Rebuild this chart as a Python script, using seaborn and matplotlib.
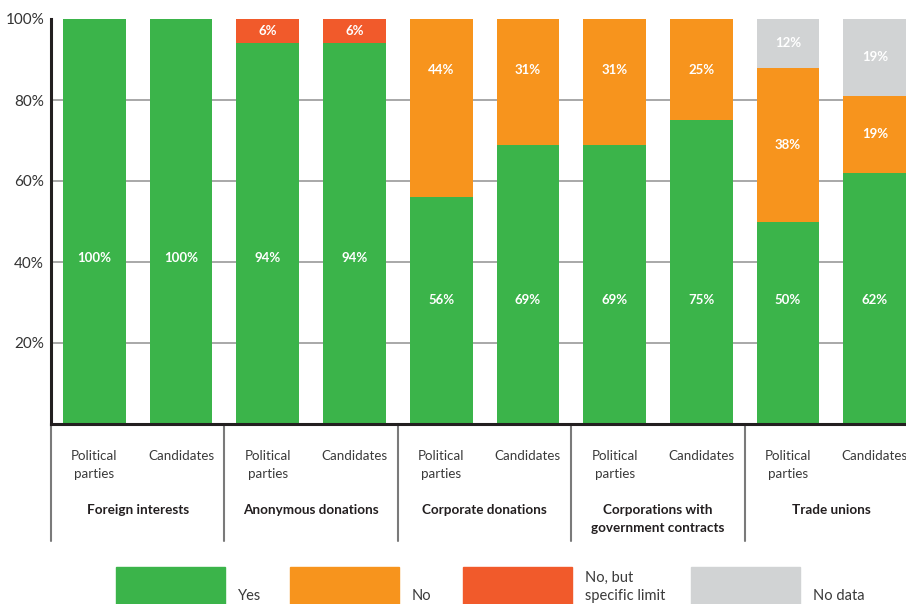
import numpy as np
import pandas as pd
import seaborn as sns
import matplotlib.pyplot as plt
from matplotlib import transforms
from matplotlib.patches import Rectangle

# data (percent of countries)
groups = ['Foreign interests', 'Anonymous donations', 'Corporate donations',
          'Corporations with\ngovernment contracts', 'Trade unions']
subgroups = ['Political\nparties', 'Candidates']
yes = [100, 100, 94, 94, 56, 69, 69, 75, 50, 62]
no = [0, 0, 0, 0, 44, 31, 31, 25, 38, 19]
no_limit = [0, 0, 6, 6, 0, 0, 0, 0, 0, 0]
no_data = [0, 0, 0, 0, 0, 0, 0, 0, 12, 19]

series = ['Yes', 'No', 'No, but\nspecific limit', 'No data']
colors = ['#3bb44a', '#f7941d', '#f15a2b', '#d1d3d4']

sns.set_theme(style='white')
plt.rcParams['font.family'] = ['Lato', 'DejaVu Sans']

bar_ids = [f'{g}|{s}' for g in groups for s in subgroups]
df = pd.DataFrame({'bar': bar_ids, 'Yes': yes, 'No': no,
                   'Limit': no_limit, 'NoData': no_data})
df['c1'] = df['Yes']
df['c2'] = df['c1'] + df['No']
df['c3'] = df['c2'] + df['Limit']
df['c4'] = df['c3'] + df['NoData']

fig = plt.figure(figsize=(9.06, 6.04), dpi=100)
ax = fig.add_axes([51 / 906, 180 / 604, 855 / 906, 405 / 604])

# stacked bars: draw cumulative totals from the top down
for col, color in zip(['c4', 'c3', 'c2', 'c1'], colors[::-1]):
    sns.barplot(data=df, x='bar', y=col, order=bar_ids, color=color,
                saturation=1, width=0.724, linewidth=0, ax=ax, zorder=2)

ax.set_xlim(-0.5, 9.36)
ax.set_ylim(0, 100)
ax.set_xlabel('')
ax.set_ylabel('')
ax.set_xticks([])
ax.set_yticks([20, 40, 60, 80, 100])
ax.set_yticklabels(['20%', '40%', '60%', '80%', '100%'], fontsize=11, color='#333333')
ax.tick_params(axis='y', length=0, pad=5)
for y in [20, 40, 60, 80]:
    ax.axhline(y, color='#9a9a9a', lw=1.2, zorder=1)
for side in ['top', 'right']:
    ax.spines[side].set_visible(False)
for side in ['left', 'bottom']:
    ax.spines[side].set_color('#231f20')
    ax.spines[side].set_linewidth(2.2)
    ax.spines[side].set_zorder(3)

# value labels
seg_values = [yes, no, no_limit, no_data]
for i in range(len(bar_ids)):
    bottom = 0
    for k, vals in enumerate(seg_values):
        v = vals[i]
        if v > 0:
            top = bottom + v
            if k == 0:
                ypos = 41 if v >= 90 else 30.5
            elif top >= 100:
                ypos = 100 - min(v / 2, 12.5)
            else:
                ypos = bottom + v / 2
            ax.text(i, ypos, f'{v}%', ha='center', va='center', color='white',
                    fontsize=9.5, fontweight='bold', zorder=4)
        bottom += v

# category labels under the axis
trans = transforms.blended_transform_factory(ax.transData, fig.transFigure)
for i, b in enumerate(bar_ids):
    sub = b.split('|')[1]
    ax.text(i, 1 - 450 / 604, sub, transform=trans, ha='center', va='top',
            fontsize=9.6, color='#3a3a3a', linespacing=1.6)
for g, name in enumerate(groups):
    ax.text(2 * g + 0.5, 1 - 504 / 604, name, transform=trans, ha='center',
            va='top', fontsize=9.7, fontweight='bold', color='#231f20',
            linespacing=1.6)
for g in range(len(groups)):
    ax.plot([2 * g - 0.5, 2 * g - 0.5], [1 - 424 / 604, 1 - 541 / 604],
            transform=trans, color='#7a7a7a', lw=1.5, clip_on=False)

# legend blocks at the bottom
legend_x = [116, 290, 463, 691]
for x0, color, label in zip(legend_x, colors, series):
    fig.patches.append(Rectangle((x0 / 906, 0), 109 / 906, 37 / 604,
                                 transform=fig.transFigure, color=color))
    fig.text((x0 + 122) / 906, 1 / 604, label, ha='left', va='bottom',
             fontsize=10.5, color='#3a3a3a', linespacing=1.35)

plt.savefig('out.png', dpi=100)
